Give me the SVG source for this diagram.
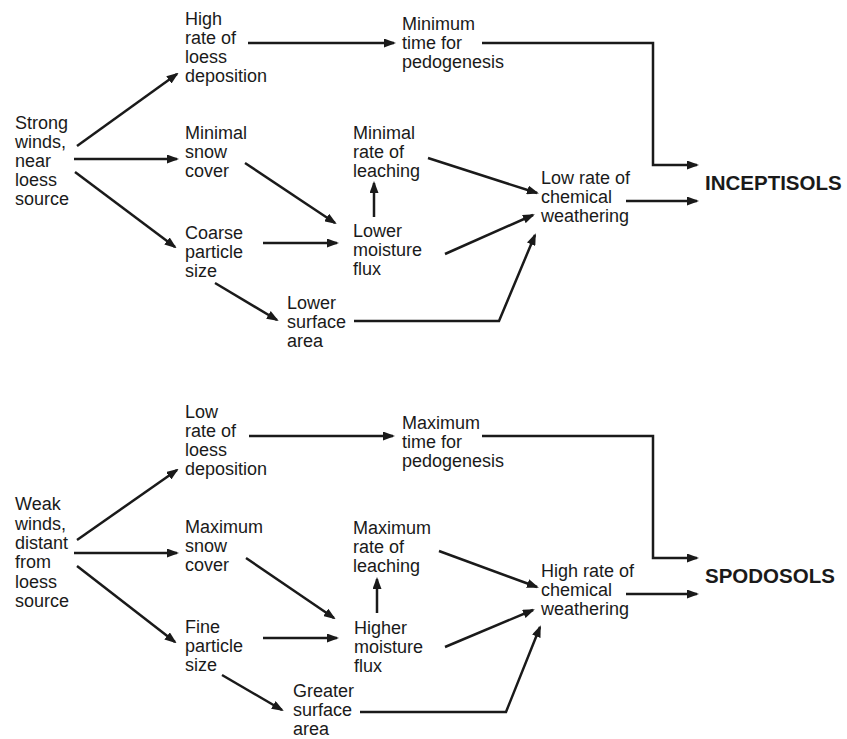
<svg xmlns="http://www.w3.org/2000/svg" width="847" height="739" viewBox="0 0 847 739">
<style>
text{font-family:"Liberation Sans",Arial,sans-serif;font-size:18px;fill:#1a1a1a}
.b{font-weight:bold;font-size:20.5px}
.c{fill:none;stroke:#1a1a1a;stroke-width:2.5;marker-end:url(#ah)}
</style>
<defs>
<marker id="ah" viewBox="0 0 12 9" refX="10" refY="4.5" markerWidth="12" markerHeight="9" markerUnits="userSpaceOnUse" orient="auto">
<path d="M0,0 L12,4.5 L0,9 z" fill="#1a1a1a"/>
</marker>
</defs>
<rect width="847" height="739" fill="#fff"/>
<g id="connectors">
<path class="c" d="M77,146 L177,74"/>
<path class="c" d="M74,159 L177,159"/>
<path class="c" d="M75,172 L175,247"/>
<path class="c" d="M248,43 L394,43"/>
<path class="c" d="M482,43 L653,43 L653,165 L697,165"/>
<path class="c" d="M245,163 L335,223"/>
<path class="c" d="M263,243 L337,243"/>
<path class="c" d="M215,283 L277,320"/>
<path class="c" d="M374,217 L374,183"/>
<path class="c" d="M428,158 L537,193"/>
<path class="c" d="M445,254 L533,215"/>
<path class="c" d="M354,321 L499,321 L535,235"/>
<path class="c" d="M626,201 L697,201"/>
<path class="c" d="M77,540 L177,470"/>
<path class="c" d="M74,553 L177,553"/>
<path class="c" d="M77,566 L175,642"/>
<path class="c" d="M249,436 L393,436"/>
<path class="c" d="M482,436 L653,436 L653,558 L697,558"/>
<path class="c" d="M246,558 L334,618"/>
<path class="c" d="M263,638 L337,638"/>
<path class="c" d="M222,675 L282,710"/>
<path class="c" d="M377,613 L377,579"/>
<path class="c" d="M439,551 L537,587"/>
<path class="c" d="M445,647 L533,610"/>
<path class="c" d="M360,712 L506,712 L540,627"/>
<path class="c" d="M626,594 L697,594"/>
</g>
<g id="strong"><text><tspan x="15" y="129">Strong</tspan><tspan x="15" y="148">winds,</tspan><tspan x="15" y="167">near</tspan><tspan x="15" y="186">loess</tspan><tspan x="15" y="205">source</tspan></text></g>
<g id="high-dep"><text><tspan x="185" y="25">High</tspan><tspan x="185" y="44">rate of</tspan><tspan x="185" y="63">loess</tspan><tspan x="185" y="82">deposition</tspan></text></g>
<g id="min-time"><text><tspan x="402" y="30">Minimum</tspan><tspan x="402" y="49">time for</tspan><tspan x="402" y="68">pedogenesis</tspan></text></g>
<g id="min-snow"><text><tspan x="185" y="139">Minimal</tspan><tspan x="185" y="158">snow</tspan><tspan x="185" y="177">cover</tspan></text></g>
<g id="coarse"><text><tspan x="185" y="239">Coarse</tspan><tspan x="185" y="258">particle</tspan><tspan x="185" y="277">size</tspan></text></g>
<g id="min-leach"><text><tspan x="353" y="139">Minimal</tspan><tspan x="353" y="158">rate of</tspan><tspan x="353" y="177">leaching</tspan></text></g>
<g id="lower-flux"><text><tspan x="353" y="237">Lower</tspan><tspan x="353" y="256">moisture</tspan><tspan x="353" y="275">flux</tspan></text></g>
<g id="lower-surf"><text><tspan x="287" y="309">Lower</tspan><tspan x="287" y="328">surface</tspan><tspan x="287" y="347">area</tspan></text></g>
<g id="low-chem"><text><tspan x="541" y="184">Low rate of</tspan><tspan x="541" y="203">chemical</tspan><tspan x="541" y="222">weathering</tspan></text></g>
<g id="inceptisols"><text class="b" x="705" y="190">INCEPTISOLS</text></g>
<g id="weak"><text><tspan x="15" y="510">Weak</tspan><tspan x="15" y="530">winds,</tspan><tspan x="15" y="549">distant</tspan><tspan x="15" y="568">from</tspan><tspan x="15" y="588">loess</tspan><tspan x="15" y="607">source</tspan></text></g>
<g id="low-dep"><text><tspan x="185" y="418">Low</tspan><tspan x="185" y="437">rate of</tspan><tspan x="185" y="456">loess</tspan><tspan x="185" y="475">deposition</tspan></text></g>
<g id="max-time"><text><tspan x="402" y="429">Maximum</tspan><tspan x="402" y="448">time for</tspan><tspan x="402" y="467">pedogenesis</tspan></text></g>
<g id="max-snow"><text><tspan x="185" y="533">Maximum</tspan><tspan x="185" y="552">snow</tspan><tspan x="185" y="571">cover</tspan></text></g>
<g id="fine"><text><tspan x="185" y="633">Fine</tspan><tspan x="185" y="652">particle</tspan><tspan x="185" y="671">size</tspan></text></g>
<g id="max-leach"><text><tspan x="353" y="534">Maximum</tspan><tspan x="353" y="553">rate of</tspan><tspan x="353" y="572">leaching</tspan></text></g>
<g id="higher-flux"><text><tspan x="354" y="634">Higher</tspan><tspan x="354" y="653">moisture</tspan><tspan x="354" y="672">flux</tspan></text></g>
<g id="greater-surf"><text><tspan x="293" y="697">Greater</tspan><tspan x="293" y="716">surface</tspan><tspan x="293" y="735">area</tspan></text></g>
<g id="high-chem"><text><tspan x="541" y="577">High rate of</tspan><tspan x="541" y="596">chemical</tspan><tspan x="541" y="615">weathering</tspan></text></g>
<g id="spodosols"><text class="b" x="705" y="583">SPODOSOLS</text></g>
</svg>
